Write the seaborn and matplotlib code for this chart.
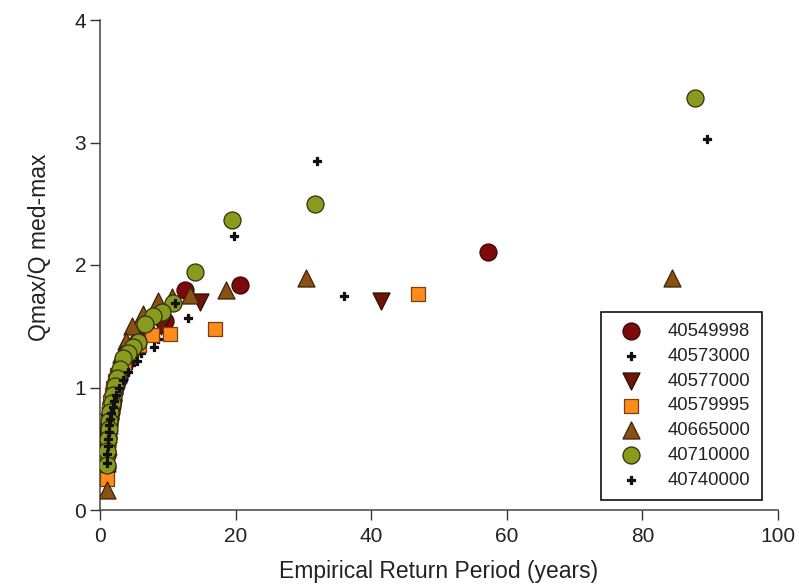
import matplotlib
matplotlib.use("Agg")
import matplotlib.pyplot as plt
import seaborn as sns
import pandas as pd

# ---- data ----
stations = ["40549998", "40573000", "40577000", "40579995", "40665000", "40710000", "40740000"]

x_40549998 = [57.2, 20.6, 12.5, 9.6, 7.0, 5.6, 4.6, 3.8, 3.2, 2.8, 2.4, 2.1, 1.9, 1.7, 1.55, 1.42, 1.32, 1.24, 1.16, 1.10, 1.05, 1.02]
y_40549998 = [2.11, 1.84, 1.80, 1.54, 1.45, 1.38, 1.30, 1.22, 1.15, 1.08, 1.02, 0.96, 0.90, 0.85, 0.80, 0.75, 0.70, 0.65, 0.60, 0.53, 0.45, 0.35]

x_40573000 = [36.0, 13.0, 8.5, 6.0, 4.6, 3.7, 3.0, 2.6, 2.2, 1.95, 1.75, 1.58, 1.45, 1.34, 1.25, 1.17, 1.10, 1.04]
y_40573000 = [1.75, 1.57, 1.40, 1.28, 1.18, 1.10, 1.02, 0.96, 0.90, 0.85, 0.80, 0.75, 0.70, 0.65, 0.60, 0.54, 0.47, 0.40]

x_40577000 = [41.5, 14.8, 9.0, 6.3, 4.9, 4.0, 3.3, 2.8, 2.4, 2.1, 1.85, 1.65, 1.5, 1.38, 1.28, 1.19, 1.12, 1.05]
y_40577000 = [1.71, 1.70, 1.50, 1.40, 1.30, 1.22, 1.14, 1.07, 1.00, 0.94, 0.88, 0.82, 0.77, 0.72, 0.66, 0.60, 0.52, 0.42]

x_40579995 = [46.9, 17.0, 10.3, 7.6, 5.8, 4.4, 3.6, 3.0, 2.5, 2.2, 1.9, 1.7, 1.52, 1.4, 1.3, 1.2, 1.12, 1.06, 1.02]
y_40579995 = [1.76, 1.475, 1.44, 1.43, 1.35, 1.28, 1.20, 1.14, 1.10, 1.05, 1.00, 0.94, 0.88, 0.82, 0.74, 0.66, 0.56, 0.44, 0.25]

x_40665000 = [84.4, 30.4, 18.6, 13.3, 10.6, 8.6, 6.4, 4.7, 3.8, 3.1, 2.6, 2.3, 2.0, 1.8, 1.62, 1.48, 1.36, 1.26, 1.18, 1.11, 1.06, 1.02]
y_40665000 = [1.89, 1.89, 1.80, 1.755, 1.74, 1.71, 1.60, 1.50, 1.38, 1.27, 1.18, 1.10, 1.02, 0.95, 0.88, 0.82, 0.76, 0.69, 0.62, 0.52, 0.38, 0.16]

x_40710000 = [87.8, 31.7, 19.4, 14.0, 10.8, 9.1, 7.8, 6.6, 5.65, 4.9, 4.2, 3.4, 2.9, 2.5, 2.15, 1.9, 1.7, 1.52, 1.38, 1.26, 1.15, 1.06, 1.01]
y_40710000 = [3.36, 2.50, 2.37, 1.94, 1.69, 1.62, 1.58, 1.52, 1.37, 1.33, 1.28, 1.24, 1.15, 1.08, 1.01, 0.94, 0.87, 0.80, 0.73, 0.66, 0.58, 0.48, 0.37]

x_40740000 = [89.5, 32.0, 19.7, 11.0, 7.9, 5.5, 4.2, 3.4, 2.8, 2.4, 2.1, 1.85, 1.65, 1.5, 1.38, 1.28, 1.2, 1.13, 1.07, 1.02]
y_40740000 = [3.03, 2.85, 2.24, 1.69, 1.33, 1.22, 1.13, 1.06, 1.00, 0.94, 0.89, 0.84, 0.79, 0.74, 0.69, 0.64, 0.58, 0.52, 0.46, 0.38]

xs = [x_40549998, x_40573000, x_40577000, x_40579995, x_40665000, x_40710000, x_40740000]
ys = [y_40549998, y_40573000, y_40577000, y_40579995, y_40665000, y_40710000, y_40740000]

x_ticks = [0, 20, 40, 60, 80, 100]
y_ticks = [0, 1, 2, 3, 4]
x_label = "Empirical Return Period (years)"
y_label = "Qmax/Q med-max"

# ---- styles ----
styles = {
    "40549998": dict(marker="o", s=150, color="#7d0a0a", ec="#3a0505"),
    "40573000": dict(marker="P", s=38, color="#111111", ec="#111111"),
    "40577000": dict(marker="v", s=150, color="#6a1608", ec="#330a03"),
    "40579995": dict(marker="s", s=115, color="#ff8c1a", ec="#7a3e10"),
    "40665000": dict(marker="^", s=150, color="#8a5014", ec="#3d2208"),
    "40710000": dict(marker="o", s=150, color="#8a9a1e", ec="#2d320a"),
    "40740000": dict(marker="P", s=38, color="#111111", ec="#111111"),
}

frames = []
for st, xv, yv in zip(stations, xs, ys):
    frames.append(pd.DataFrame({"station": st, "T": xv, "Q": yv}))
df = pd.concat(frames, ignore_index=True)

sns.set_style("ticks")
plt.rcParams["font.family"] = ["Liberation Sans", "DejaVu Sans"]

fig = plt.figure(figsize=(7.99, 5.87), dpi=100)
ax = fig.add_axes([100 / 799, 1 - 510 / 587, 678 / 799, 490 / 587])

for st in stations:
    sub = df[df["station"] == st]
    stl = styles[st]
    sns.scatterplot(data=sub, x="T", y="Q", ax=ax, marker=stl["marker"], s=stl["s"],
                    color=stl["color"], edgecolor=stl["ec"], linewidth=0.9, label=st,
                    legend=False, zorder=3)

ax.set_xlim(0, 100)
ax.set_ylim(0, 4)
ax.set_xticks(x_ticks)
ax.set_yticks(y_ticks)
ax.set_xlabel(x_label, fontsize=16.5, color="#222222", labelpad=10)
ax.set_ylabel(y_label, fontsize=16.5, color="#222222")
ax.yaxis.set_label_coords(-0.072, 0.537)
ax.tick_params(axis="both", labelsize=15, length=7, width=1, colors="#333333",
               labelcolor="#222222", direction="out", pad=5)
ax.tick_params(axis="y", pad=3)
sns.despine(ax=ax)
for sp in ["left", "bottom"]:
    ax.spines[sp].set_color("#444444")
    ax.spines[sp].set_linewidth(1.1)

handles, labels = ax.get_legend_handles_labels()
leg = ax.legend(handles, labels, loc="lower right", bbox_to_anchor=(0.976, 0.02),
                fontsize=13.3, frameon=True, fancybox=False, framealpha=1,
                edgecolor="#111111", labelspacing=0.42, borderpad=0.62,
                handletextpad=0.95, borderaxespad=0, markerscale=1.0)
leg.get_frame().set_linewidth(1.2)
for t in leg.get_texts():
    t.set_color("#222222")

fig.savefig("out.png", dpi=100)
